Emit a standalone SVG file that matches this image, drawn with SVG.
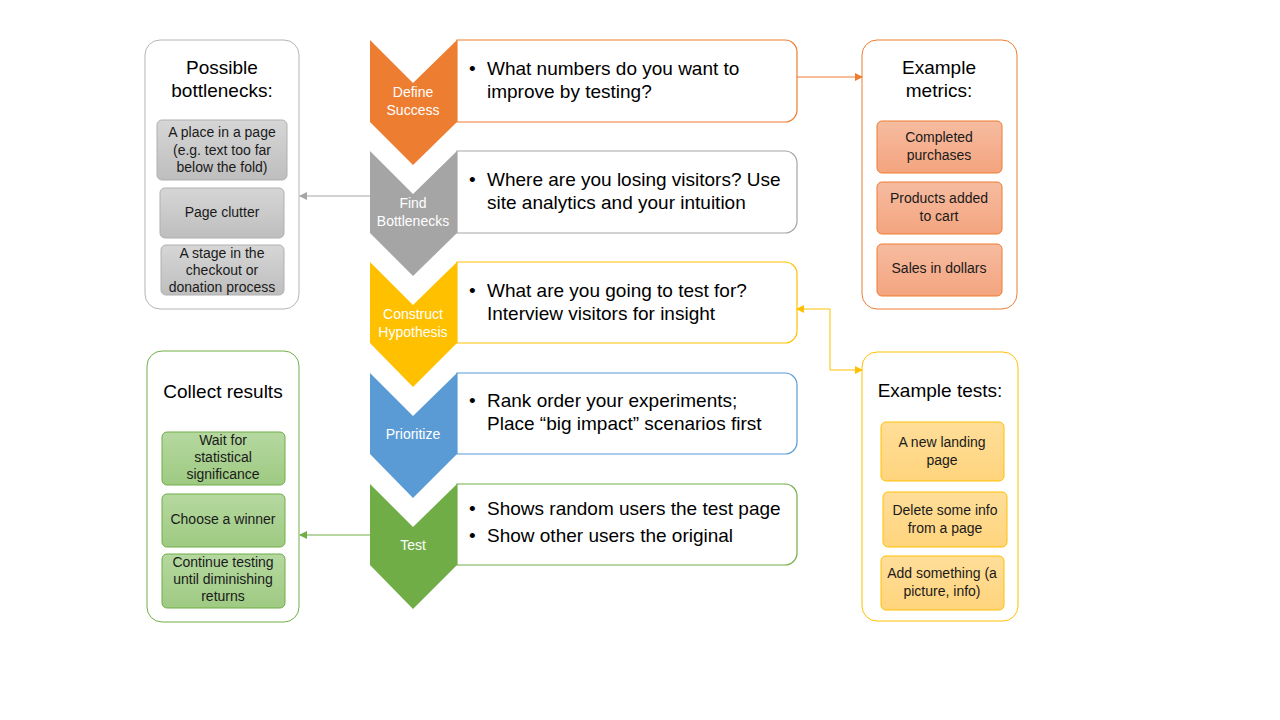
<svg xmlns="http://www.w3.org/2000/svg" width="1280" height="720" viewBox="0 0 1280 720">
<defs>
<linearGradient id="gGray" x1="0" y1="0" x2="0" y2="1"><stop offset="0" stop-color="#D6D6D6"/><stop offset="1" stop-color="#BEBEBE"/></linearGradient>
<linearGradient id="gOrange" x1="0" y1="0" x2="0" y2="1"><stop offset="0" stop-color="#F6BCA0"/><stop offset="1" stop-color="#F4A47F"/></linearGradient>
<linearGradient id="gYellow" x1="0" y1="0" x2="0" y2="1"><stop offset="0" stop-color="#FFDE9A"/><stop offset="1" stop-color="#FFD47C"/></linearGradient>
<linearGradient id="gGreen" x1="0" y1="0" x2="0" y2="1"><stop offset="0" stop-color="#B5D8A0"/><stop offset="1" stop-color="#9ECA82"/></linearGradient>
<marker id="mOrange" markerWidth="8" markerHeight="8" refX="7" refY="4" orient="auto" markerUnits="userSpaceOnUse"><path d="M0,0 L8,4 L0,8 Z" fill="#ED7D31"/></marker>
<marker id="mGray" markerWidth="8" markerHeight="8" refX="7" refY="4" orient="auto" markerUnits="userSpaceOnUse"><path d="M0,0 L8,4 L0,8 Z" fill="#A5A5A5"/></marker>
<marker id="mYellow" markerWidth="8" markerHeight="8" refX="7" refY="4" orient="auto-start-reverse" markerUnits="userSpaceOnUse"><path d="M0,0 L8,4 L0,8 Z" fill="#FFC000"/></marker>
<marker id="mGreen" markerWidth="8" markerHeight="8" refX="7" refY="4" orient="auto" markerUnits="userSpaceOnUse"><path d="M0,0 L8,4 L0,8 Z" fill="#70AD47"/></marker>
</defs>
<style>
text{font-family:"Liberation Sans",Arial,sans-serif;}
.lbl{fill:#FFFFFF;font-size:14px;text-anchor:middle;}
.bt{fill:#000000;font-size:19px;}
.ttl{fill:#000000;font-size:19px;text-anchor:middle;}
.it{fill:#1A1A1A;font-size:14px;text-anchor:middle;}
.panel{fill:#FFFFFF;stroke-width:1;}
.tbox{fill:#FFFFFF;stroke-width:1.2;}
.conn{fill:none;stroke-width:1;}
</style>
<rect width="1280" height="720" fill="#FFFFFF"/>

<g id="panel-bottlenecks">
<rect class="panel" x="145" y="40" width="154" height="269" rx="15" stroke="#B4B4B4"/>
<text class="ttl" x="222" y="74">Possible</text>
<text class="ttl" x="222" y="97">bottlenecks:</text>
<rect x="157" y="120" width="130" height="60" rx="5" fill="url(#gGray)" stroke="#B0B0B0"/>
<text class="it" x="222" y="137">A place in a page</text>
<text class="it" x="222" y="155">(e.g. text too far</text>
<text class="it" x="222" y="172">below the fold)</text>
<rect x="160" y="188" width="124" height="50" rx="5" fill="url(#gGray)" stroke="#B0B0B0"/>
<text class="it" x="222" y="217">Page clutter</text>
<rect x="161" y="245" width="123" height="50" rx="5" fill="url(#gGray)" stroke="#B0B0B0"/>
<text class="it" x="222" y="258">A stage in the</text>
<text class="it" x="222" y="275">checkout or</text>
<text class="it" x="222" y="292">donation process</text>
</g>

<g id="panel-results">
<rect class="panel" x="147" y="351" width="152" height="271" rx="15" stroke="#70AD47"/>
<text class="ttl" x="223" y="398">Collect results</text>
<rect x="162" y="432" width="123" height="53" rx="5" fill="url(#gGreen)" stroke="#70AD47"/>
<text class="it" x="223" y="445">Wait for</text>
<text class="it" x="223" y="462">statistical</text>
<text class="it" x="223" y="479">significance</text>
<rect x="162" y="494" width="123" height="53" rx="5" fill="url(#gGreen)" stroke="#70AD47"/>
<text class="it" x="223" y="524">Choose a winner</text>
<rect x="162" y="554" width="123" height="54" rx="5" fill="url(#gGreen)" stroke="#70AD47"/>
<text class="it" x="223" y="567">Continue testing</text>
<text class="it" x="223" y="584">until diminishing</text>
<text class="it" x="223" y="601">returns</text>
</g>

<g id="panel-metrics">
<rect class="panel" x="862" y="40" width="155" height="269" rx="15" stroke="#ED7D31"/>
<text class="ttl" x="939" y="74">Example</text>
<text class="ttl" x="939" y="97">metrics:</text>
<rect x="877" y="121" width="125" height="52" rx="5" fill="url(#gOrange)" stroke="#ED7D31"/>
<text class="it" x="939" y="142">Completed</text>
<text class="it" x="939" y="160">purchases</text>
<rect x="877" y="182" width="125" height="52" rx="5" fill="url(#gOrange)" stroke="#ED7D31"/>
<text class="it" x="939" y="203">Products added</text>
<text class="it" x="939" y="221">to cart</text>
<rect x="877" y="244" width="125" height="52" rx="5" fill="url(#gOrange)" stroke="#ED7D31"/>
<text class="it" x="939" y="273">Sales in dollars</text>
</g>

<g id="panel-tests">
<rect class="panel" x="862" y="352" width="156" height="269" rx="15" stroke="#FFC000"/>
<text class="ttl" x="940" y="397">Example tests:</text>
<rect x="881" y="422" width="123" height="59" rx="5" fill="url(#gYellow)" stroke="#FFC000"/>
<text class="it" x="942" y="447">A new landing</text>
<text class="it" x="942" y="465">page</text>
<rect x="883" y="492" width="124" height="55" rx="5" fill="url(#gYellow)" stroke="#FFC000"/>
<text class="it" x="945" y="515">Delete some info</text>
<text class="it" x="945" y="533">from a page</text>
<rect x="881" y="556" width="123" height="54" rx="5" fill="url(#gYellow)" stroke="#FFC000"/>
<text class="it" x="942" y="578">Add something (a</text>
<text class="it" x="942" y="596">picture, info)</text>
</g>

<g id="step-define">
<path class="tbox" d="M457,40 H785 A12,12 0 0 1 797,52 V110 A12,12 0 0 1 785,122 H457 Z" stroke="#ED7D31"/>
<path d="M370,40 L413,83 L457,40 V122 L413,165 L370,122 Z" fill="#ED7D31"/>
<text class="lbl" x="413" y="97">Define</text>
<text class="lbl" x="413" y="115">Success</text>
<text class="bt" x="469" y="75">•</text>
<text class="bt" x="487" y="75">What numbers do you want to</text>
<text class="bt" x="487" y="98">improve by testing?</text>
</g>

<g id="step-bottlenecks">
<path class="tbox" d="M457,151 H785 A12,12 0 0 1 797,163 V221 A12,12 0 0 1 785,233 H457 Z" stroke="#A5A5A5"/>
<path d="M370,151 L413,194 L457,151 V233 L413,276 L370,233 Z" fill="#A5A5A5"/>
<text class="lbl" x="413" y="208">Find</text>
<text class="lbl" x="413" y="226">Bottlenecks</text>
<text class="bt" x="469" y="186">•</text>
<text class="bt" x="487" y="186">Where are you losing visitors? Use</text>
<text class="bt" x="487" y="209">site analytics and your intuition</text>
</g>

<g id="step-hypothesis">
<path class="tbox" d="M457,262 H785 A12,12 0 0 1 797,274 V331 A12,12 0 0 1 785,343 H457 Z" stroke="#FFC000"/>
<path d="M370,262 L413,305 L457,262 V343 L413,387 L370,343 Z" fill="#FFC000"/>
<text class="lbl" x="413" y="319">Construct</text>
<text class="lbl" x="413" y="337">Hypothesis</text>
<text class="bt" x="469" y="297">•</text>
<text class="bt" x="487" y="297">What are you going to test for?</text>
<text class="bt" x="487" y="320">Interview  visitors for insight</text>
</g>

<g id="step-prioritize">
<path class="tbox" d="M457,373 H785 A12,12 0 0 1 797,385 V442 A12,12 0 0 1 785,454 H457 Z" stroke="#5B9BD5"/>
<path d="M370,373 L413,416 L457,373 V454 L413,498 L370,454 Z" fill="#5B9BD5"/>
<text class="lbl" x="413" y="439">Prioritize</text>
<text class="bt" x="469" y="407">•</text>
<text class="bt" x="487" y="407">Rank order your experiments;</text>
<text class="bt" x="487" y="430">Place “big impact” scenarios first</text>
</g>

<g id="step-test">
<path class="tbox" d="M457,484 H785 A12,12 0 0 1 797,496 V553 A12,12 0 0 1 785,565 H457 Z" stroke="#70AD47"/>
<path d="M370,484 L413,527 L457,484 V565 L413,609 L370,565 Z" fill="#70AD47"/>
<text class="lbl" x="413" y="550">Test</text>
<text class="bt" x="469" y="515">•</text>
<text class="bt" x="487" y="515">Shows random users the test page</text>
<text class="bt" x="469" y="542">•</text>
<text class="bt" x="487" y="542">Show other users the original</text>
</g>

<g id="connectors">
<path class="conn" d="M797,77 H862" stroke="#ED7D31" marker-end="url(#mOrange)"/>
<path class="conn" d="M370,196 H300" stroke="#A5A5A5" marker-end="url(#mGray)"/>
<path class="conn" d="M797,309 H830 V370 H862" stroke="#FFC000" marker-start="url(#mYellow)" marker-end="url(#mYellow)"/>
<path class="conn" d="M370,535 H300" stroke="#70AD47" marker-end="url(#mGreen)"/>
</g>
</svg>
